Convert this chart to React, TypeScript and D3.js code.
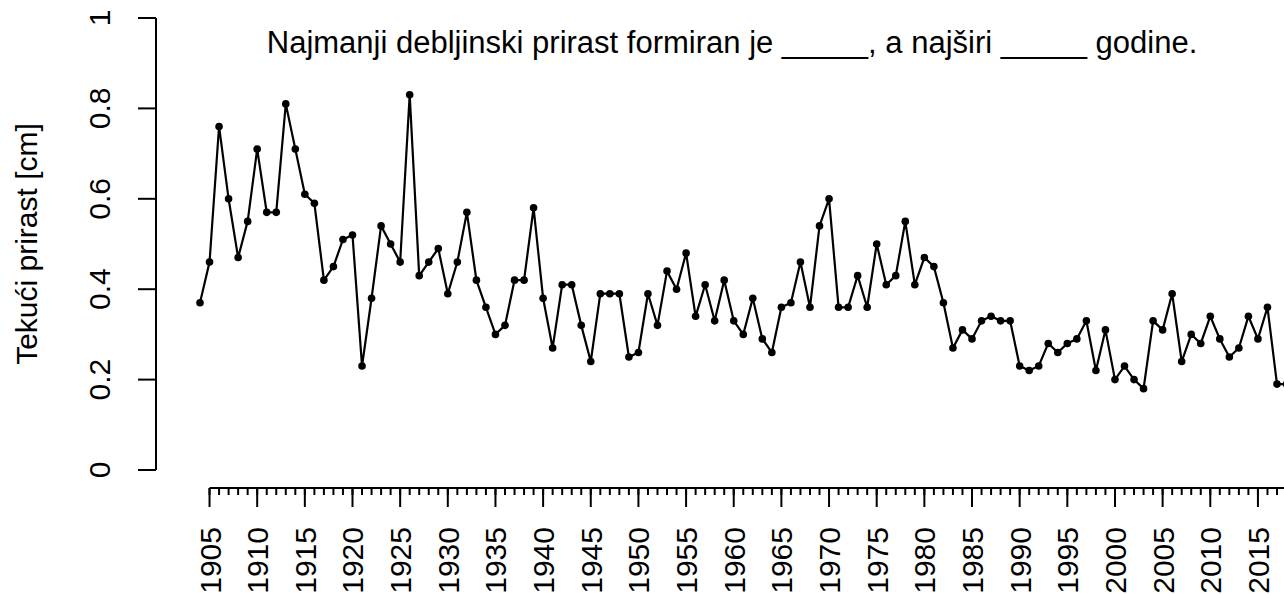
import React from "react";
import * as d3 from "d3";

const width = 1284;
const height = 594;
const font = "'Liberation Sans', Arial, Helvetica, sans-serif";

const title =
  "Najmanji debljinski prirast formiran je _____, a najširi _____ godine.";
const yTitle = "Tekući prirast [cm]";

const firstYear = 1904;
// tekući prirast po godinama, 1904 - 2018
const increments = [
  0.37, 0.46, 0.76, 0.6, 0.47, 0.55, 0.71, 0.57, 0.57, 0.81, 0.71, 0.61, 0.59,
  0.42, 0.45, 0.51, 0.52, 0.23, 0.38, 0.54, 0.5, 0.46, 0.83, 0.43, 0.46, 0.49,
  0.39, 0.46, 0.57, 0.42, 0.36, 0.3, 0.32, 0.42, 0.42, 0.58, 0.38, 0.27, 0.41,
  0.41, 0.32, 0.24, 0.39, 0.39, 0.39, 0.25, 0.26, 0.39, 0.32, 0.44, 0.4, 0.48,
  0.34, 0.41, 0.33, 0.42, 0.33, 0.3, 0.38, 0.29, 0.26, 0.36, 0.37, 0.46, 0.36,
  0.54, 0.6, 0.36, 0.36, 0.43, 0.36, 0.5, 0.41, 0.43, 0.55, 0.41, 0.47, 0.45,
  0.37, 0.27, 0.31, 0.29, 0.33, 0.34, 0.33, 0.33, 0.23, 0.22, 0.23, 0.28, 0.26,
  0.28, 0.29, 0.33, 0.22, 0.31, 0.2, 0.23, 0.2, 0.18, 0.33, 0.31, 0.39, 0.24,
  0.3, 0.28, 0.34, 0.29, 0.25, 0.27, 0.34, 0.29, 0.36, 0.19, 0.19,
];
const yTicks = [0, 0.2, 0.4, 0.6, 0.8, 1];
const yTickLabels = ["0", "0.2", "0.4", "0.6", "0.8", "1"];
const xMajorTicks = d3.range(1905, 2021, 5);
const xMinorTicks = d3.range(1905, 2021, 1);

const data = increments.map((v, i) => ({ year: firstYear + i, value: v }));

const x = d3.scaleLinear().domain([1904, 2017]).range([200, 1277]);
const y = d3.scaleLinear().domain([0, 1]).range([470, 18]);

const yAxisX = 156;
const xAxisY = 488;

const line = d3
  .line<{ year: number; value: number }>()
  .x((d) => x(d.year))
  .y((d) => y(d.value));

export default function App() {
  return (
    <svg
      width={width}
      height={height}
      style={{ position: "absolute", left: 0, top: 0, background: "#fff" }}
      fontFamily={font}
    >
      <rect width={width} height={height} fill="#fff" />

      {/* naslov */}
      <text x={732} y={53} fontSize={31} textAnchor="middle" fill="#000">
        {title}
      </text>

      {/* y os */}
      <line
        x1={yAxisX}
        x2={yAxisX}
        y1={y(0)}
        y2={y(1)}
        stroke="#000"
        strokeWidth={2}
      />
      {yTicks.map((t, i) => (
        <g key={t}>
          <line
            x1={yAxisX - 18}
            x2={yAxisX}
            y1={y(t)}
            y2={y(t)}
            stroke="#000"
            strokeWidth={2}
          />
          <text
            transform={`translate(110,${y(t)}) rotate(-90)`}
            textAnchor="middle"
            fontSize={30}
            fill="#000"
          >
            {yTickLabels[i]}
          </text>
        </g>
      ))}
      <text
        transform={`translate(37,244) rotate(-90)`}
        textAnchor="middle"
        fontSize={30}
        fill="#000"
      >
        {yTitle}
      </text>

      {/* x os */}
      <line
        x1={x(1905)}
        x2={x(2020)}
        y1={xAxisY}
        y2={xAxisY}
        stroke="#000"
        strokeWidth={2}
      />
      {xMinorTicks.map((t) => (
        <line
          key={"m" + t}
          x1={x(t)}
          x2={x(t)}
          y1={xAxisY}
          y2={xAxisY + 7}
          stroke="#000"
          strokeWidth={2}
        />
      ))}
      {xMajorTicks.map((t) => (
        <g key={t}>
          <line
            x1={x(t)}
            x2={x(t)}
            y1={xAxisY}
            y2={xAxisY + 19}
            stroke="#000"
            strokeWidth={2}
          />
          {x(t) + 11 < width && (
            <text
              transform={`translate(${x(t) + 11},527) rotate(-90)`}
              textAnchor="end"
              fontSize={30}
              fill="#000"
            >
              {t}
            </text>
          )}
        </g>
      ))}

      {/* serija */}
      <path d={line(data) ?? ""} fill="none" stroke="#000" strokeWidth={2.2} />
      {data.map((d) => (
        <circle key={d.year} cx={x(d.year)} cy={y(d.value)} r={3.8} fill="#000" />
      ))}
    </svg>
  );
}
